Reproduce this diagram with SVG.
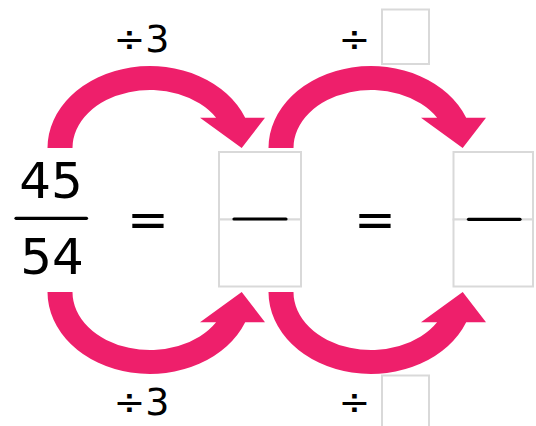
<svg xmlns="http://www.w3.org/2000/svg" xmlns:xlink="http://www.w3.org/1999/xlink" width="536" height="426" viewBox="0 0 536 426">
  <style>
    .t { font-family: "DejaVu Sans", Verdana, sans-serif; fill: #000; }
    .big { font-size: 50px; }
    .lbl { font-size: 38px; }
    .box { fill: #fff; stroke: #d9d9d9; stroke-width: 2; }
    .dash { stroke: #000; stroke-width: 3.2; stroke-linecap: round; }
    .arrow { fill: #EE1F6B; }
  </style>
  <defs>
    <path id="arcTop" class="arrow" d="M 47.5 148 A 102.5 82 0 0 1 245.2 117.7 L 265 117.7 L 241.7 148 L 200 117.7 L 216.1 117.7 A 77.5 58 0 0 0 72.5 148 Z"/>
    <path id="arcBot" class="arrow" d="M 47.5 292 A 102.5 82 0 0 0 245.2 322.3 L 265 322.3 L 241.7 292 L 200 322.3 L 216.1 322.3 A 77.5 58 0 0 1 72.5 292 Z"/>
  </defs>
  <rect width="536" height="426" fill="#fff"/>

  <g id="connectors">
    <use xlink:href="#arcTop"/>
    <use xlink:href="#arcBot"/>
    <use xlink:href="#arcTop" transform="translate(221,0)"/>
    <use xlink:href="#arcBot" transform="translate(221,0)"/>
  </g>

  <g id="fraction-45-54">
    <text class="t big" x="51" y="198.3" text-anchor="middle">45</text>
    <line class="dash" x1="16" y1="218.3" x2="86.5" y2="218.3" stroke-linecap="butt"/>
    <text class="t big" x="52" y="274" text-anchor="middle">54</text>
  </g>

  <g id="equals-1">
    <text class="t big" x="148" y="236.5" text-anchor="middle">=</text>
  </g>

  <g id="box-fraction-1">
    <rect class="box" x="219" y="152" width="82" height="67.5"/>
    <rect class="box" x="219" y="219.5" width="82" height="67"/>
    <line class="dash" x1="234" y1="219" x2="286" y2="219"/>
  </g>

  <g id="equals-2">
    <text class="t big" x="375" y="236.5" text-anchor="middle">=</text>
  </g>

  <g id="box-fraction-2">
    <rect class="box" x="453.5" y="152" width="79.5" height="67.5"/>
    <rect class="box" x="453.5" y="219.5" width="79.5" height="67"/>
    <line class="dash" x1="468.5" y1="219.3" x2="520" y2="219.3"/>
  </g>

  <g id="label-top-1">
    <text class="t lbl" x="141.5" y="51.7" text-anchor="middle">÷3</text>
  </g>
  <g id="label-bottom-1">
    <text class="t lbl" x="141.5" y="415" text-anchor="middle">÷3</text>
  </g>

  <g id="label-top-2">
    <text class="t lbl" x="354.5" y="51.7" text-anchor="middle">÷</text>
    <rect class="box" x="382" y="9.5" width="47" height="54.5"/>
  </g>
  <g id="label-bottom-2">
    <text class="t lbl" x="354.5" y="415" text-anchor="middle">÷</text>
    <rect class="box" x="382" y="375.5" width="47" height="56"/>
  </g>
</svg>
